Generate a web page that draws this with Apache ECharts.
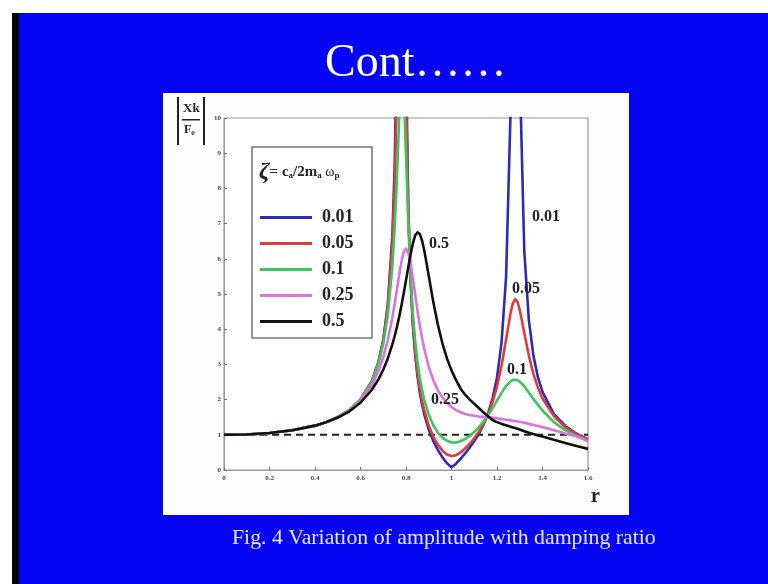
<!DOCTYPE html>
<html>
<head>
<meta charset="utf-8">
<script src="https://cdn.jsdelivr.net/npm/echarts@6/dist/echarts.min.js"></script>
<style>
  html, body { margin: 0; padding: 0; background: #fff; }
  #chartMain { width: 768px; height: 584px; }
</style>
</head>
<body>
<div id="chartMain"></div>
<script>
// frequency ratio r
var rValues = [0, 0.1, 0.2, 0.3, 0.4, 0.45, 0.5, 0.55, 0.6, 0.65, 0.68, 0.7, 0.72, 0.74, 0.75, 0.76, 0.77, 0.78, 0.79, 0.8,
  0.81, 0.82, 0.83, 0.84, 0.85, 0.86, 0.87, 0.88, 0.9, 0.92, 0.94, 0.96, 0.98, 1.0, 1.02, 1.04, 1.06, 1.08, 1.1,
  1.12, 1.14, 1.16, 1.18, 1.2, 1.22, 1.24, 1.26, 1.27, 1.28, 1.29, 1.3, 1.32, 1.34, 1.36, 1.38, 1.4,
  1.45, 1.5, 1.55, 1.6];

// |Xk/F0| for each damping ratio
var zeta001 = [1, 1.01, 1.05, 1.13, 1.26, 1.36, 1.5, 1.7, 2.0, 2.53, 3.1, 3.7, 4.7, 6.66, 8.59, 12.33, 22.7, 99, 24.9, 11.79,
  7.51, 5.39, 4.13, 3.29, 2.68, 2.23, 1.87, 1.59, 1.15, 0.82, 0.57, 0.36, 0.19, 0.08, 0.18, 0.32, 0.47, 0.64, 0.82,
  1.02, 1.28, 1.59, 2.02, 2.63, 3.62, 5.49, 10.27, 16.24, 23.76, 17.75, 11.34, 6.21, 4.26, 3.25, 2.63, 2.22,
  1.59, 1.25, 1.03, 0.87];
var zeta005 = [1, 1.01, 1.05, 1.13, 1.26, 1.36, 1.5, 1.7, 2.0, 2.53, 3.08, 3.67, 4.62, 6.4, 8.0, 10.72, 15.63, 21.3, 16.86, 10.74,
  7.36, 5.43, 4.22, 3.39, 2.79, 2.34, 1.98, 1.7, 1.26, 0.95, 0.72, 0.55, 0.44, 0.4, 0.42, 0.5, 0.61, 0.74, 0.9,
  1.08, 1.3, 1.58, 1.92, 2.37, 2.96, 3.71, 4.47, 4.74, 4.85, 4.78, 4.55, 3.89, 3.25, 2.73, 2.34, 2.03,
  1.53, 1.21, 1.01, 0.86];
var zeta01 = [1, 1.01, 1.05, 1.13, 1.26, 1.36, 1.5, 1.7, 2.0, 2.51, 3.04, 3.58, 4.4, 5.78, 6.85, 8.27, 10.0, 11.28, 10.81, 8.93,
  7.01, 5.54, 4.47, 3.69, 3.1, 2.65, 2.29, 2.0, 1.57, 1.27, 1.06, 0.92, 0.83, 0.78, 0.78, 0.82, 0.88, 0.97, 1.08,
  1.21, 1.37, 1.55, 1.75, 1.97, 2.19, 2.39, 2.52, 2.56, 2.56, 2.55, 2.51, 2.38, 2.2, 2.02, 1.85, 1.69,
  1.36, 1.13, 0.96, 0.83];
var zeta025 = [1, 1.01, 1.05, 1.13, 1.26, 1.36, 1.5, 1.68, 1.97, 2.41, 2.83, 3.2, 3.69, 4.33, 4.71, 5.12, 5.54, 5.92, 6.19, 6.29,
  6.18, 5.88, 5.46, 5.0, 4.55, 4.14, 3.77, 3.45, 2.93, 2.55, 2.27, 2.06, 1.91, 1.79, 1.7, 1.64, 1.59, 1.56, 1.54,
  1.52, 1.51, 1.5, 1.49, 1.47, 1.45, 1.43, 1.41, 1.4, 1.39, 1.38, 1.37, 1.34, 1.31, 1.28, 1.25, 1.22,
  1.13, 1.04, 0.96, 0.82];
var zeta05 = [1, 1.01, 1.05, 1.13, 1.26, 1.36, 1.49, 1.66, 1.91, 2.28, 2.59, 2.85, 3.17, 3.57, 3.8, 4.06, 4.35, 4.67, 5.02, 5.39,
  5.76, 6.12, 6.43, 6.66, 6.75, 6.71, 6.53, 6.25, 5.52, 4.77, 4.13, 3.6, 3.17, 2.83, 2.55, 2.31, 2.14, 2.0, 1.88,
  1.76, 1.64, 1.53, 1.42, 1.36, 1.31, 1.27, 1.23, 1.21, 1.19, 1.17, 1.15, 1.1, 1.06, 1.02, 0.98, 0.95,
  0.86, 0.77, 0.68, 0.6];

var refLevel = 1;   // static response |Xk/F0| = 1
var seriesNames = ['0.01', '0.05', '0.1', '0.25', '0.5'];
var seriesColors = ['#2b2bb5', '#e03a3a', '#3dc45c', '#e070e0', '#111111'];

var serif = '"Liberation Serif", "DejaVu Serif", serif';

function pairs(ys) {
  return rValues.map(function (r, i) { return [r, ys[i]]; });
}

var allData = [zeta001, zeta005, zeta01, zeta025, zeta05];
var curveSeries = allData.map(function (ys, i) {
  return {
    name: seriesNames[i],
    type: 'line',
    data: pairs(ys),
    showSymbol: false,
    symbol: 'none',
    smooth: false,
    clip: true,
    z: 3 + i,
    lineStyle: { width: 2.6, color: seriesColors[i], join: 'round' },
    itemStyle: { color: seriesColors[i] }
  };
});

// dashed reference line
curveSeries.push({
  name: 'ref',
  type: 'line',
  data: [[0, refLevel], [1.6, refLevel]],
  symbol: 'none',
  silent: true,
  z: 2,
  lineStyle: { width: 2, type: [7, 5], color: '#222' }
});

var chart = echarts.init(document.getElementById('chartMain'));
chart.setOption({
  backgroundColor: '#0404f2',
  animation: false,
  title: {
    text: 'Cont……',
    left: 320,
    top: 36,
    textStyle: { color: '#fff', fontFamily: serif, fontSize: 46, fontWeight: 'normal' }
  },
  grid: {
    left: 224, top: 118, width: 364, height: 352,
    show: true, backgroundColor: '#fff', borderColor: '#999', borderWidth: 1.2
  },
  legend: {
    data: seriesNames,
    orient: 'vertical',
    left: 255,
    top: 203,
    icon: 'rect',
    itemWidth: 52,
    itemHeight: 3,
    itemGap: 7,
    selectedMode: false,
    textStyle: { color: '#222', fontFamily: serif, fontWeight: 'bold', fontSize: 18, lineHeight: 19, padding: [0, 0, 0, 5] }
  },
  xAxis: {
    type: 'value',
    min: 0, max: 1.6, interval: 0.2,
    axisLine: { lineStyle: { color: '#999' } },
    axisTick: { inside: true, length: 3, lineStyle: { color: '#777' } },
    axisLabel: { fontSize: 7, fontWeight: 'bold', fontFamily: serif, color: '#444', margin: 5 },
    splitLine: { show: false }
  },
  yAxis: {
    type: 'value',
    min: 0, max: 10, interval: 1,
    axisLine: { show: true, lineStyle: { color: '#999' } },
    axisTick: { show: true, inside: true, length: 3, lineStyle: { color: '#777' } },
    axisLabel: { fontSize: 7, fontWeight: 'bold', fontFamily: serif, color: '#444', margin: 3 },
    splitLine: { show: false }
  },
  series: curveSeries,
  graphic: [
    // slide edges
    { type: 'rect', shape: { x: 0, y: 0, width: 768, height: 13 }, style: { fill: '#fff' }, z: -10 },
    { type: 'rect', shape: { x: 0, y: 0, width: 12, height: 584 }, style: { fill: '#fff' }, z: -10 },
    { type: 'rect', shape: { x: 12, y: 13, width: 7, height: 571 }, style: { fill: '#050505' }, z: -10 },
    // white figure panel
    { type: 'rect', shape: { x: 163, y: 93, width: 466, height: 422 }, style: { fill: '#fdfdfd' }, z: -10 },
    // y axis name |Xk/F0|
    { type: 'rect', shape: { x: 177, y: 97, width: 2, height: 48 }, style: { fill: '#222' } },
    { type: 'rect', shape: { x: 203, y: 97, width: 2, height: 48 }, style: { fill: '#222' } },
    { type: 'text', left: 183, top: 102, style: { text: 'Xk', fill: '#222', font: 'bold 13px ' + serif } },
    { type: 'rect', shape: { x: 182, y: 119, width: 18, height: 1.5 }, style: { fill: '#222' } },
    { type: 'text', left: 184, top: 124, style: {
      text: '{f|F}{s|0}', fill: '#222',
      rich: { f: { font: 'bold 12px ' + serif, fill: '#222' }, s: { font: 'bold 7px ' + serif, fill: '#222', padding: [6, 0, 0, 0] } }
    } },
    // x axis name
    { type: 'text', left: 591, top: 487, style: { text: 'r', fill: '#222', font: 'bold 20px ' + serif } },
    // legend box and heading
    { type: 'rect', shape: { x: 252, y: 147, width: 120, height: 191 }, style: { fill: '#fff', stroke: '#777', lineWidth: 1.5 }, z: 1 },
    { type: 'text', left: 259, top: 160, z: 10, style: {
      text: '{z|ζ}{t|= c}{s|a}{t|/2m}{s|a}{w| ω}{s|p}', fill: '#222',
      rich: {
        z: { font: 'italic bold 24px ' + serif, fill: '#222' },
        t: { font: 'bold 15px ' + serif, fill: '#222' },
        w: { font: '14px ' + serif, fill: '#222' },
        s: { font: 'bold 9px ' + serif, fill: '#222', padding: [8, 0, 0, 0] }
      }
    } },
    // curve labels
    { type: 'text', left: 532, top: 209, z: 10, style: { text: '0.01', fill: '#222', font: 'bold 16px ' + serif } },
    { type: 'text', left: 429, top: 236, z: 10, style: { text: '0.5', fill: '#222', font: 'bold 16px ' + serif } },
    { type: 'text', left: 512, top: 281, z: 10, style: { text: '0.05', fill: '#222', font: 'bold 16px ' + serif } },
    { type: 'text', left: 507, top: 362, z: 10, style: { text: '0.1', fill: '#222', font: 'bold 16px ' + serif } },
    { type: 'text', left: 431, top: 392, z: 10, style: { text: '0.25', fill: '#222', font: 'bold 16px ' + serif } },
    // caption
    { type: 'text', left: 232, top: 527, style: { text: 'Fig. 4 Variation of amplitude with damping ratio', fill: '#e8e8ff', font: '21.8px ' + serif } }
  ]
});
</script>
</body>
</html>
